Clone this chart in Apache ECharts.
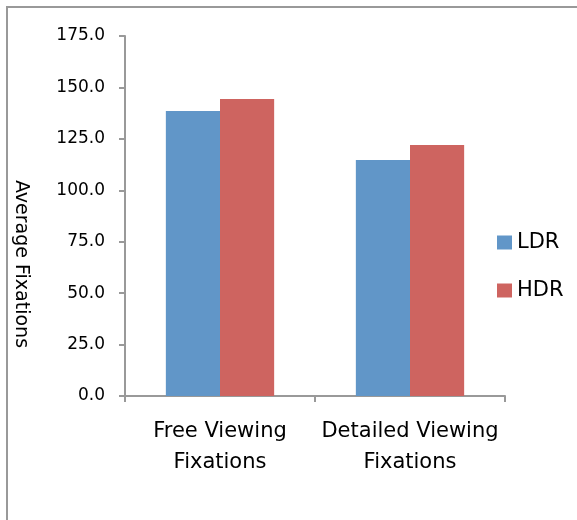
<!DOCTYPE html>
<html>
<head>
<meta charset="utf-8">
<script src="https://cdn.jsdelivr.net/npm/echarts@6/dist/echarts.min.js"></script>
<style>
html, body { margin: 0; padding: 0; background: #fff; }
#chart { width: 577px; height: 520px; }
</style>
</head>
<body>
<div id="chart"></div>
<script>
// data
var categories = ['Free Viewing\nFixations', 'Detailed Viewing\nFixations'];
var ldrValues = [138.5, 114.7];
var hdrValues = [144.4, 122.0];
var seriesNames = ['LDR', 'HDR'];
var yTicks = { min: 0, max: 175, interval: 25 };

var font = 'DejaVu Sans';
var chart = echarts.init(document.getElementById('chart'));
var option = {
  animation: false,
  textStyle: { fontFamily: font },
  grid: { left: 125, right: 72, top: 36, bottom: 124 },
  // outer frame (right and bottom are cut off in the original)
  graphic: [
    { type: 'rect', shape: { x: 7, y: 7, width: 700, height: 700 },
      style: { fill: 'none', stroke: '#999', lineWidth: 2 } },
    { type: 'text', x: 21, y: 264, rotation: -Math.PI / 2,
      style: { text: 'Average Fixations', fontFamily: font, fontSize: 19, fill: '#000',
               align: 'center', verticalAlign: 'middle' } }
  ],
  legend: {
    orient: 'vertical', left: 497, top: 232, itemGap: 27, padding: 0,
    itemWidth: 15, itemHeight: 14, icon: 'rect',
    textStyle: { fontFamily: font, fontSize: 21, color: '#000' },
    data: seriesNames
  },
  xAxis: {
    type: 'category', data: categories,
    axisLine: { lineStyle: { color: '#999', width: 2 } },
    axisTick: { show: true, length: 6, lineStyle: { color: '#999', width: 2 } },
    axisLabel: { color: '#000', fontSize: 21, lineHeight: 31, margin: 20, interval: 0 }
  },
  yAxis: {
    type: 'value', min: yTicks.min, max: yTicks.max, interval: yTicks.interval,
    splitLine: { show: false },
    axisLine: { show: true, lineStyle: { color: '#999', width: 2 } },
    axisTick: { show: true, length: 6, lineStyle: { color: '#999', width: 2 } },
    axisLabel: { color: '#000', fontSize: 17, margin: 20,
                 formatter: function (v) { return v.toFixed(1); } }
  },
  series: [
    { name: seriesNames[0], type: 'bar', data: ldrValues, barGap: '0%', barCategoryGap: '43%',
      itemStyle: { color: '#6196C8' } },
    { name: seriesNames[1], type: 'bar', data: hdrValues, barGap: '0%', barCategoryGap: '43%',
      itemStyle: { color: '#CE6460' } }
  ]
};
chart.setOption(option);
</script>
</body>
</html>
